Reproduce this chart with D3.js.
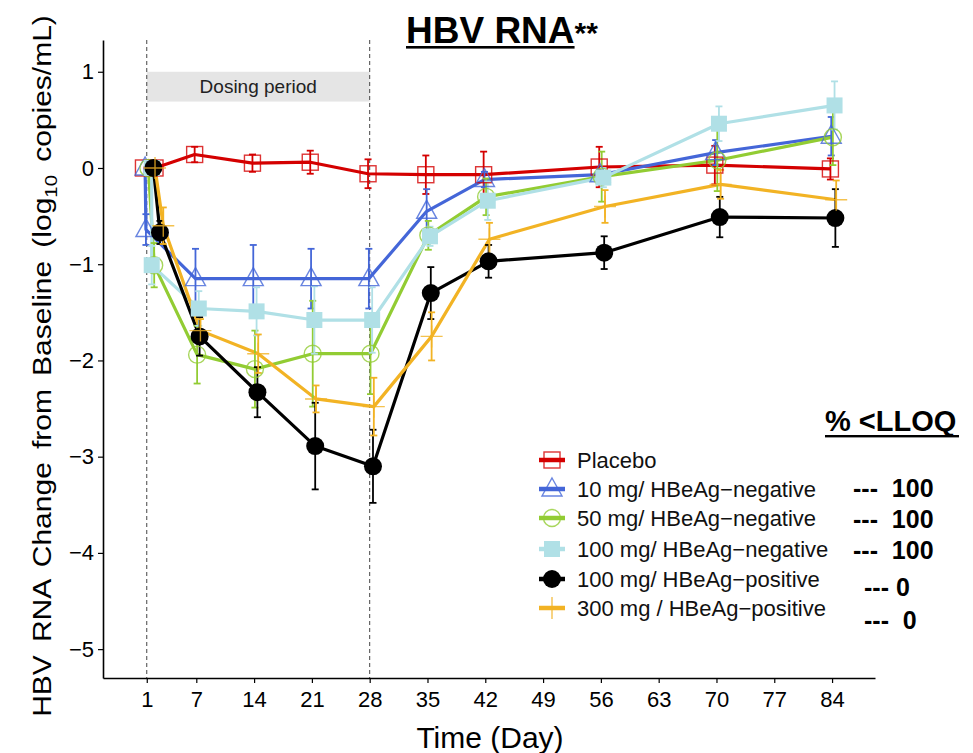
<!DOCTYPE html>
<html><head><meta charset="utf-8">
<script src="https://cdn.jsdelivr.net/npm/d3@7"></script>
<style>body{margin:0;background:#fff} svg{display:block}</style>
</head><body>
<svg id="chart" width="973" height="753"></svg>
<script>
// ---------- data ----------
const visitLabels = ["D1", "early", "D7", "D14", "D21", "D28", "D35", "D42", "D56", "D70", "D84"];
const visitDays = [1, null, 7, 14, 21, 28, 35, 42, 56, 70, 84];
const xTicks = [1, 7, 14, 21, 28, 35, 42, 49, 56, 63, 70, 77, 84];
const yTicks = [-5, -4, -3, -2, -1, 0, 1];
const seriesNames = ["Placebo", "10 mg/ HBeAg\u2212negative", "50 mg/ HBeAg\u2212negative",
  "100 mg/ HBeAg\u2212negative", "100 mg/ HBeAg\u2212positive", "300 mg / HBeAg\u2212positive"];
const earlyDay = [2.0, 0.9, 1.9, 1.6, 2.6, 3.0];
const lloqLabels = ["", "---  100", "---  100", "---  100", "--- 0", "---  0"];

const placeboMean = [0, 0, 0.14, 0.05, 0.06, -0.06, -0.07, -0.07, 0.01, 0.03, -0.01];
const placeboErr  = [0.02, 0.03, 0.08, 0.09, 0.12, 0.15, 0.20, 0.24, 0.21, 0.20, 0.11];
const neg10Mean   = [0, -0.64, -1.15, -1.15, -1.15, -1.15, -0.45, -0.12, -0.07, 0.16, 0.33];
const neg10Err    = [0.02, 0.16, 0.31, 0.35, 0.31, 0.31, 0.23, 0.08, 0.05, 0.13, 0.20];
const neg50Mean   = [0, -1.01, -1.94, -2.09, -1.93, -1.93, -0.70, -0.30, -0.09, 0.08, 0.32];
const neg50Err    = [0.02, 0.23, 0.30, 0.40, 0.55, 0.42, 0.15, 0.19, 0.26, 0.32, 0.29];
const neg100Mean  = [0, -1.01, -1.46, -1.49, -1.58, -1.58, -0.71, -0.34, -0.10, 0.46, 0.65];
const neg100Err   = [0.02, 0.20, 0.18, 0.25, 0.35, 0.34, 0.10, 0.20, 0.10, 0.18, 0.25];
const pos100Mean  = [0, -0.67, -1.75, -2.33, -2.89, -3.10, -1.30, -0.97, -0.88, -0.51, -0.52];
const pos100Err   = [0.02, 0.12, 0.20, 0.26, 0.45, 0.38, 0.27, 0.17, 0.17, 0.21, 0.30];
const pos300Mean  = [0, -0.60, -1.69, -1.93, -2.40, -2.48, -1.75, -0.74, -0.40, -0.17, -0.33];
const pos300Err   = [0.02, 0.19, 0.12, 0.20, 0.14, 0.30, 0.25, 0.17, 0.17, 0.15, 0.20];

const colors = ["#d40000", "#4466d8", "#92cc33", "#b0e0e6", "#000000", "#f2b324"];
const shapes = ["squareOpen", "triangleOpen", "circleOpen", "squareFilled", "circleFilled", "plus"];
const dodge  = [-0.2, -0.1, 0.1, 0.3, 0.4, 0.5];

const means = [placeboMean, neg10Mean, neg50Mean, neg100Mean, pos100Mean, pos300Mean];
const errs  = [placeboErr, neg10Err, neg50Err, neg100Err, pos100Err, pos300Err];

(function () {
const series = seriesNames.map((name, i) => ({
  name, color: colors[i], shape: shapes[i],
  pts: means[i].map((m, j) => ({
    day: visitDays[j] === null ? earlyDay[i] : visitDays[j] + (j === 0 ? dodge[i] * 2 : dodge[i]),
    v: m, e: errs[i][j]
  }))
}));

// ---------- layout ----------
const svg = d3.select("#chart");
const FONT = "'Liberation Sans', Arial, sans-serif";
const NARROW = "'Liberation Sans Narrow', 'Liberation Sans', Arial, sans-serif";
const pL = 103, pR = 875, pT = 40, pB = 678;
const x = d3.scaleLinear().domain([-4.3, 89.2]).range([pL, pR]);
const y = d3.scaleLinear().domain([-5.3, 1.33]).range([pB, pT]);

// dosing period band
svg.append("rect").attr("x", x(1)).attr("y", y(1.0)).attr("width", x(28) - x(1))
  .attr("height", y(0.69) - y(1.0)).attr("fill", "#e5e5e5");
svg.append("text").attr("x", (x(1) + x(28)) / 2).attr("y", y(0.845)).attr("dy", "0.35em")
  .attr("text-anchor", "middle").attr("font-family", FONT).attr("font-size", 19).attr("fill", "#222")
  .text("Dosing period");
[1, 28].forEach(d => svg.append("line").attr("x1", x(d)).attr("x2", x(d)).attr("y1", pT).attr("y2", pB)
  .attr("stroke", "#444").attr("stroke-width", 1).attr("stroke-dasharray", "4,3"));

// axes
const gx = svg.append("g").attr("transform", `translate(0,${pB})`)
  .call(d3.axisBottom(x).tickValues(xTicks).tickSize(5).tickSizeOuter(0).tickFormat(d3.format("d")));
const gy = svg.append("g").attr("transform", `translate(${pL},0)`)
  .call(d3.axisLeft(y).tickValues(yTicks).tickSize(5).tickSizeOuter(0).tickFormat(d => d < 0 ? "\u2212" + Math.abs(d) : d));
[gx, gy].forEach(g => {
  g.select(".domain").attr("stroke", "#000").attr("stroke-width", 1.6);
  g.selectAll(".tick line").attr("stroke", "#000").attr("stroke-width", 1.2);
  g.selectAll("text").attr("font-family", NARROW).attr("font-size", 22).attr("fill", "#000");
});
gx.selectAll("text").attr("dy", "0.95em");
gy.selectAll("text").attr("x", -9);

// axis titles
svg.append("text").attr("x", (pL + pR) / 2 + 1).attr("y", 748).attr("text-anchor", "middle")
  .attr("font-family", NARROW).attr("font-size", 30).text("Time (Day)");
const yl = svg.append("text").attr("transform", "translate(51,366) rotate(-90) scale(1.2,1)")
  .attr("text-anchor", "middle").attr("font-family", FONT).attr("font-size", 25).attr("word-spacing", 4);
yl.append("tspan").text("HBV RNA Change from Baseline (log");
yl.append("tspan").attr("font-size", 17).attr("dy", 6).text("10");
yl.append("tspan").attr("dy", -6).text(" copies/mL)");

// title
const title = svg.append("text").attr("x", 406).attr("y", 43).attr("font-family", FONT).attr("font-weight", "bold");
const t1 = title.append("tspan").attr("font-size", 37).text("HBV RNA");
title.append("tspan").attr("font-size", 30).text("**");
const tw = t1.node().getComputedTextLength();
svg.append("rect").attr("x", 406).attr("y", 46).attr("width", tw).attr("height", 2.6).attr("fill", "#000");

// ---------- marks ----------
const line = d3.line().x(d => x(d.day)).y(d => y(d.v));
series.forEach(s => svg.append("path").attr("d", line(s.pts)).attr("fill", "none")
  .attr("stroke", s.color).attr("stroke-width", 3.2).attr("stroke-linejoin", "round"));

series.forEach(s => {
  const g = svg.append("g").attr("stroke", s.color).attr("stroke-width", 1.8);
  s.pts.forEach(p => {
    if (p.e < 0.04) return;
    const cx = x(p.day), y0 = y(p.v - p.e), y1 = y(p.v + p.e);
    g.append("line").attr("x1", cx).attr("x2", cx).attr("y1", y0).attr("y2", y1);
    g.append("line").attr("x1", cx - 3.5).attr("x2", cx + 3.5).attr("y1", y0).attr("y2", y0);
    g.append("line").attr("x1", cx - 3.5).attr("x2", cx + 3.5).attr("y1", y1).attr("y2", y1);
  });
});

function marker(g, shape, color, cx, cy) {
  switch (shape) {
    case "squareOpen":
      g.append("rect").attr("x", cx - 8).attr("y", cy - 8).attr("width", 16).attr("height", 16)
        .attr("fill", "none").attr("stroke", color).attr("stroke-width", 1.4).attr("opacity", 0.8); break;
    case "triangleOpen":
      g.append("path").attr("d", `M${cx},${cy - 11}L${cx + 10},${cy + 7}L${cx - 10},${cy + 7}Z`)
        .attr("fill", "none").attr("stroke", color).attr("stroke-width", 1.4).attr("opacity", 0.8); break;
    case "circleOpen":
      g.append("circle").attr("cx", cx).attr("cy", cy).attr("r", 8.5)
        .attr("fill", "none").attr("stroke", color).attr("stroke-width", 1.4).attr("opacity", 0.8); break;
    case "squareFilled":
      g.append("rect").attr("x", cx - 8).attr("y", cy - 8).attr("width", 16).attr("height", 16).attr("fill", color); break;
    case "circleFilled":
      g.append("circle").attr("cx", cx).attr("cy", cy).attr("r", 9).attr("fill", color); break;
    case "plus":
      g.append("path").attr("d", `M${cx - 11},${cy}H${cx + 11}M${cx},${cy - 11}V${cy + 11}`)
        .attr("stroke", color).attr("stroke-width", 1.4).attr("opacity", 0.8); break;
  }
}
series.forEach(s => {
  const g = svg.append("g");
  s.pts.forEach(p => marker(g, s.shape, s.color, x(p.day), y(p.v)));
});

// ---------- legend ----------
const legY = [460, 489, 518, 549, 579, 608];
series.forEach((s, i) => {
  const g = svg.append("g");
  g.append("line").attr("x1", 539).attr("x2", 565).attr("y1", legY[i]).attr("y2", legY[i])
    .attr("stroke", s.color).attr("stroke-width", 4.5);
  marker(g, s.shape, s.color, 552, legY[i]);
  g.append("text").attr("x", 577).attr("y", legY[i]).attr("dy", "0.36em").attr("font-family", FONT)
    .attr("font-size", 22).attr("fill", "#111").text(s.name);
});

// % <LLOQ column
svg.append("text").attr("x", 825).attr("y", 431).attr("font-family", FONT).attr("font-weight", "bold")
  .attr("font-size", 29).text("% <LLOQ");
svg.append("rect").attr("x", 825).attr("y", 435).attr("width", 134).attr("height", 2.4).attr("fill", "#000");
const lloqX = [0, 853, 853, 853, 864, 864];
const lloqY = [0, 497, 528, 559, 596, 629];
lloqLabels.forEach((t, i) => {
  if (!t) return;
  svg.append("text").attr("x", lloqX[i]).attr("y", lloqY[i]).attr("font-family", FONT)
    .attr("font-weight", "bold").attr("font-size", 25).style("white-space", "pre").text(t);
});
})();
</script>
</body></html>
